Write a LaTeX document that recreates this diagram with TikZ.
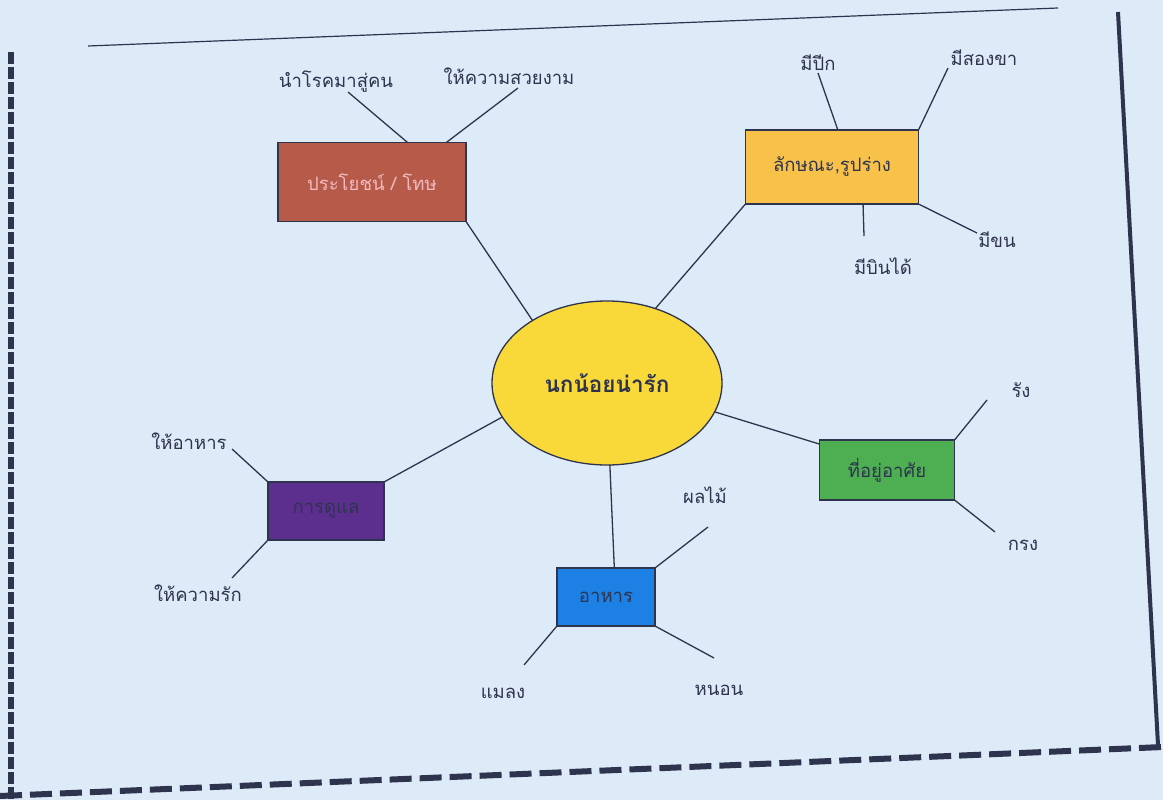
\documentclass[tikz,border=0pt]{standalone}
\usepackage{fontspec}
\newfontfamily\thaifont[Script=Thai]{Loma}
\usetikzlibrary{shapes.geometric}
\definecolor{paper}{RGB}{221,234,248}
\definecolor{ink}{RGB}{46,52,78}
\definecolor{redbox}{RGB}{182,90,74}
\definecolor{redtext}{RGB}{242,186,190}
\definecolor{orangebox}{RGB}{248,194,74}
\definecolor{greenbox}{RGB}{78,174,82}
\definecolor{bluebox}{RGB}{28,128,228}
\definecolor{purplebox}{RGB}{92,46,142}
\definecolor{sunny}{RGB}{249,217,58}
\tikzstyle{every node}=[font=\thaifont\fontsize{18.5}{20}\selectfont,text=ink,inner sep=0,outer sep=0]
\tikzset{
  topic/.style={draw=ink,line width=1.3pt,minimum width=#1},
  leaf/.style={ink,line width=1.3pt},
}

\begin{document}
\begin{tikzpicture}[x=1pt,y=-1pt]
		\useasboundingbox (0,0) rectangle (1163,800);
		\fill[paper] (0,0) rectangle (1163,800);
		\draw[ink,line width=1.2pt] (88,46) -- (1058,8);
		\draw[ink,line width=6pt,dash pattern=on 12pt off 3pt] (11,52) -- (11,800);
		\draw[ink,line width=4pt] (1118,12) -- (1158,745);
		\draw[ink,line width=6pt,dash pattern=on 22pt off 8pt] (0,796) -- (1163,747);
		\node[draw=ink,line width=1.3pt,fill=sunny,ellipse,minimum width=230pt,minimum height=164pt,font=\thaifont\bfseries\fontsize{22.5}{24}\selectfont] (bird) at (607,383) {นกน้อยน่ารัก};
		\node[topic=188pt,minimum height=79pt,fill=redbox,text=redtext] (use) at (372,182) {ประโยชน์ / โทษ};
		\node[topic=173pt,minimum height=74pt,fill=orangebox] (shape) at (832,167) {ลักษณะ,รูปร่าง};
		\node[topic=135pt,minimum height=60pt,fill=greenbox] (home) at (887,470) {ที่อยู่อาศัย};
		\node[topic=98pt,minimum height=58pt,fill=bluebox] (food) at (606,597) {อาหาร};
		\node[topic=116pt,minimum height=58pt,fill=purplebox] (care) at (326,511) {การดูแล};
		\node (u1) at (336,82) {นำโรคมาสู่คน};
		\node (u2) at (509,76) {ให้ความสวยงาม};
		\node (s1) at (818,63) {มีปีก};
		\node (s2) at (984,58) {มีสองขา};
		\node (s3) at (883,266) {มีบินได้};
		\node (s4) at (997,240) {มีขน};
		\node (h1) at (1021,390) {รัง};
		\node (h2) at (1023,545) {กรง};
		\node (f1) at (705,495) {ผลไม้};
		\node (f2) at (503,693) {แมลง};
		\node (f3) at (719,690) {หนอน};
		\node (c1) at (189,441) {ให้อาหาร};
		\node (c2) at (198,593) {ให้ความรัก};
		\coordinate (u1e) at (348,92);
		\coordinate (u2e) at (518,88);
		\coordinate (s1e) at (818,73);
		\coordinate (s2e) at (948,68);
		\coordinate (s3e) at (864,236);
		\coordinate (s4e) at (977,233);
		\coordinate (h1e) at (987,400);
		\coordinate (h2e) at (995,532);
		\coordinate (f1e) at (708,527);
		\coordinate (f2e) at (524,665);
		\coordinate (f3e) at (714,658);
		\coordinate (c1e) at (232,449);
		\coordinate (c2e) at (232,578);
		\draw[leaf] (use.south east) -- (bird.140);
		\draw[leaf] (shape.south west) -- (bird.57);
		\draw[leaf] (home.159) -- (bird.-15);
		\draw[leaf] (food.74) -- (bird.-88);
		\draw[leaf] (care.north east) -- (bird.-162);
		\draw[leaf] (use.48) -- (u1e);
		\draw[leaf] (use.28) -- (u2e);
		\draw[leaf] (shape.81) -- (s1e);
		\draw[leaf] (shape.north east) -- (s2e);
		\draw[leaf] (shape.-50) -- (s3e);
		\draw[leaf] (shape.south east) -- (s4e);
		\draw[leaf] (home.north east) -- (h1e);
		\draw[leaf] (home.south east) -- (h2e);
		\draw[leaf] (food.north east) -- (f1e);
		\draw[leaf] (food.south west) -- (f2e);
		\draw[leaf] (food.south east) -- (f3e);
		\draw[leaf] (care.north west) -- (c1e);
		\draw[leaf] (care.south west) -- (c2e);
	\end{tikzpicture}
\end{document}
